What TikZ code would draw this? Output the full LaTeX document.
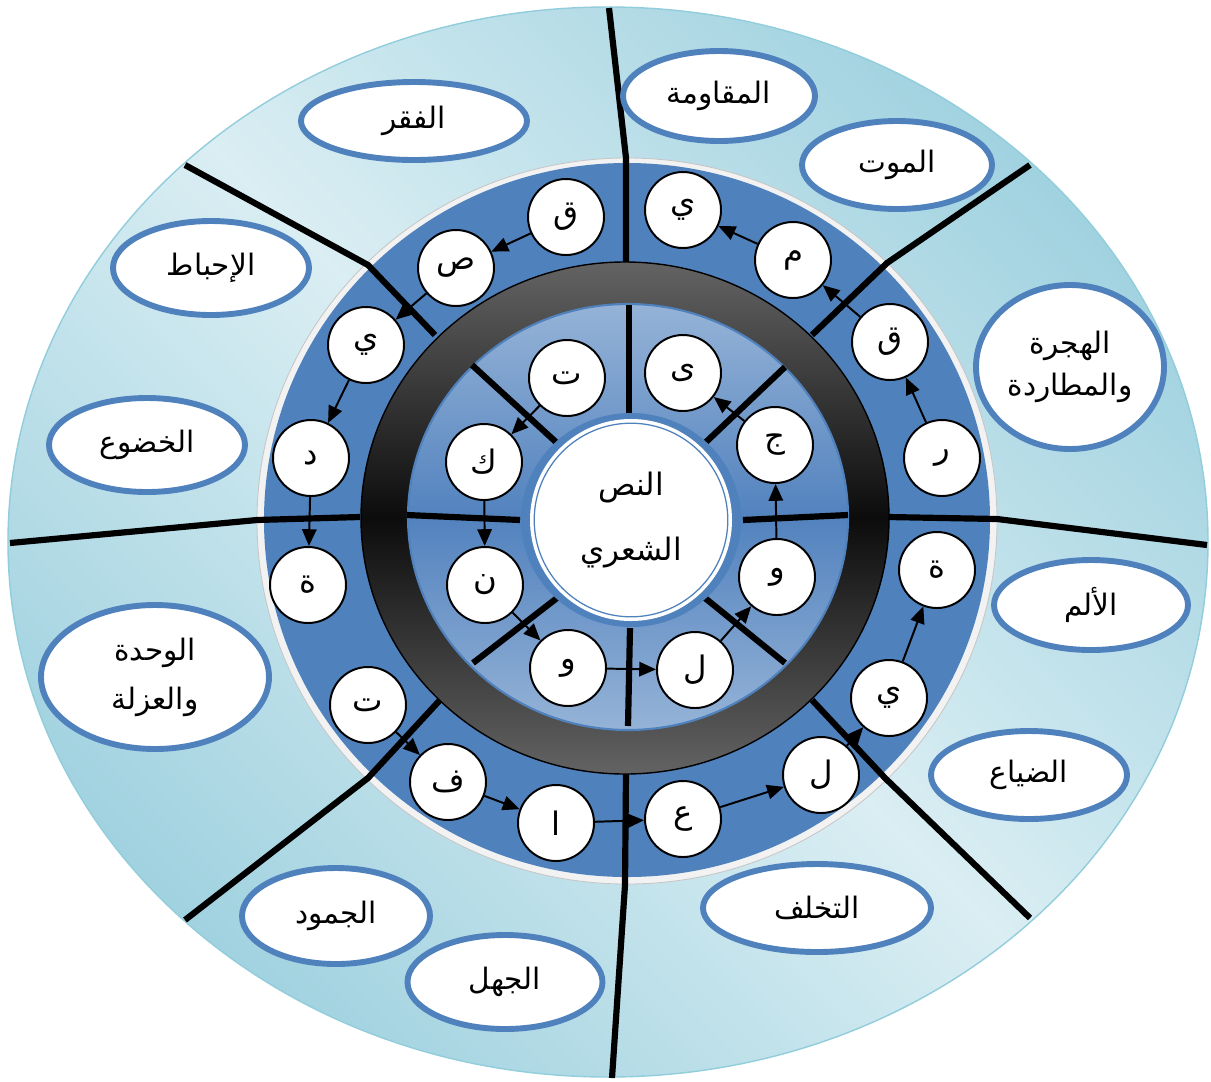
\documentclass[tikz,border=0pt]{standalone}
\usepackage{fontspec}
\usepackage{tikz}
\usetikzlibrary{shapes.geometric, arrows.meta}
\TeXXeTstate=1
\newfontfamily\arabicfont[Script=Arabic]{DejaVu Sans}
\definecolor{ringblue}{HTML}{4F81BD}
\definecolor{bandlight}{HTML}{DAEEF3}
\definecolor{banddark}{HTML}{A1D2E0}
\definecolor{bandedge}{HTML}{92CDDC}
\definecolor{disclight}{HTML}{95B3D7}
\definecolor{discdark}{HTML}{5282BE}
\definecolor{trackgray}{HTML}{636363}
\definecolor{trackdark}{HTML}{0C0C0C}
\definecolor{rimwhite}{HTML}{F2F2F2}
\newcommand{\ar}[1]{\beginR #1\endR}
\tikzset{
  % white circle holding one letter
  letter/.style={circle, draw=black, fill=white, line width=1.4pt,
                 minimum size=19mm, inner sep=0pt,
                 font=\arabicfont\fontsize{23}{26}\selectfont},
  % oval theme label on the outer band (width, height in px)
  theme/.style 2 args={ellipse, draw=ringblue, fill=white, line width=4.2pt,
                 inner sep=0pt, align=center,
                 minimum width=#1*0.25mm, minimum height=#2*0.25mm,
                 font=\arabicfont\fontsize{21}{30}\selectfont},
  % black separator between sectors
  divider/.style={black, line width=4.4pt},
  % arrow from one letter to the next
  flow/.style={-{Triangle[length=4.2mm, width=3.6mm]}, line width=1.4pt},
}

\begin{document}
\begin{tikzpicture}[x=0.25mm, y=-0.25mm]
  \useasboundingbox (0,0) rectangle (1211,1081);
  % outer band
  \shadedraw[draw=bandedge, line width=1pt, top color=banddark,
    bottom color=banddark, middle color=bandlight, shading angle=-45]
    (608,542) ellipse [x radius=150mm, y radius=133.75mm];
  % rim and blue ring
  \filldraw[draw=gray!45, fill=rimwhite, line width=0.6pt]
    (627,521) ellipse [x radius=92.5mm, y radius=90.75mm];
  \fill[ringblue] (627,520) ellipse [x radius=90.75mm, y radius=89.25mm];
  % sector dividers, outer part
  \foreach \ax/\ay/\bx/\by/\cx/\cy in {626/262/626/158/609/8,
      812/335/887/263/1030/165, 888/517/997/519/1207/545,
      812/700/885/778/1030/918, 626/773/625/885/612/1078,
      440/700/368/778/185/920, 360/517/257/520/10/543,
      435/335/368/265/185/165}
    \draw[divider] (\ax,\ay) -- (\bx,\by) -- (\cx,\cy);
  % dark track
  \shadedraw[draw=black, line width=1pt, top color=trackgray,
    bottom color=trackgray, middle color=trackdark]
    (625,518) ellipse [x radius=66mm, y radius=64mm];
  % light disc
  \shadedraw[draw=ringblue, line width=1.5pt, top color=disclight,
    bottom color=disclight, middle color=discdark]
    (628,517) ellipse [x radius=55mm, y radius=53.25mm];
  % sector dividers, inner part
  \foreach \ax/\ay/\bx/\by in {629/305/629/413, 785/367/705/443,
      743/520/848/515, 705/598/785/663, 630/628/628/726,
      557/598/473/663, 520/520/407/515, 557/443/472/365}
    \draw[divider] (\ax,\ay) -- (\bx,\by);
  % core
  \fill[ringblue] (631,520) ellipse [x radius=27.5mm, y radius=26.75mm];
  \node[circle, fill=white, minimum size=50.5mm, inner sep=0pt, align=center,
    font=\arabicfont\fontsize{22}{46}\selectfont]
    (core) at (631,520) {\ar{النص}\\\ar{الشعري}};
  \draw[ringblue, line width=0.9pt] (core.center) circle [radius=24.2mm];

  % theme labels
  \node[theme={226}{78}]  (faqr)   at (414,121)  {\ar{الفقر}};
  \node[theme={192}{90}]  (muqa)   at (719,96)   {\ar{المقاومة}};
  \node[theme={190}{88}]  (mawt)   at (897,165)  {\ar{الموت}};
  \node[theme={188}{164}] (hijra)  at (1070,367) {\ar{الهجرة}\\\ar{والمطاردة}};
  \node[theme={196}{94}]  (ihbat)  at (211,268)  {\ar{الإحباط}};
  \node[theme={196}{94}]  (khudu)  at (147,445)  {\ar{الخضوع}};
  \node[theme={228}{144}, font=\arabicfont\fontsize{21}{35}\selectfont]
                          (wahda)  at (155,677)  {\ar{الوحدة}\\\ar{والعزلة}};
  \node[theme={188}{96}]  (jumud)  at (336,916)  {\ar{الجمود}};
  \node[theme={195}{94}]  (jahl)   at (505,982)  {\ar{الجهل}};
  \node[theme={228}{88}]  (takhal) at (817,908)  {\ar{التخلف}};
  \node[theme={196}{88}]  (dayaa)  at (1029,775) {\ar{الضياع}};
  \node[theme={194}{90}]  (alam)   at (1091,605) {\ar{الألم}};

  % letters on the blue ring
  \foreach \n/\x/\y/\c in {q1/566/217/ق, s1/456/268/ص, y1/366/345/ي,
      d1/311/458/د, h1/308/585/ة, t1/368/705/ت, f1/448/782/ف,
      a1/556/823/ا, e1/683/819/ع, l1/821/775/ل, y2/889/698/ي,
      h2/937/570/ة, r1/942/458/ر, q2/890/342/ق, m1/793/260/م,
      y3/683/210/ي}
    \node[letter] (\n) at (\x,\y) {\ar{\c}};
  % letters on the light disc
  \foreach \n/\x/\y/\c in {t2/567/378/ت, k2/484/462/ك, n2/485/585/ن,
      w2/568/668/و, l2/695/670/ل, w3/777/577/و, j2/775/445/ج,
      ya2/683/373/ى}
    \node[letter] (\n) at (\x,\y) {\ar{\c}};

  \foreach \a/\b in {q1/s1, s1/y1, y1/d1, d1/h1, t1/f1, f1/a1, a1/e1,
      e1/l1, l1/y2, y2/h2, r1/q2, q2/m1, m1/y3,
      t2/k2, k2/n2, n2/w2, w2/l2, l2/w3, w3/j2, j2/ya2}
    \draw[flow] (\a) -- (\b);
\end{tikzpicture}
\end{document}
